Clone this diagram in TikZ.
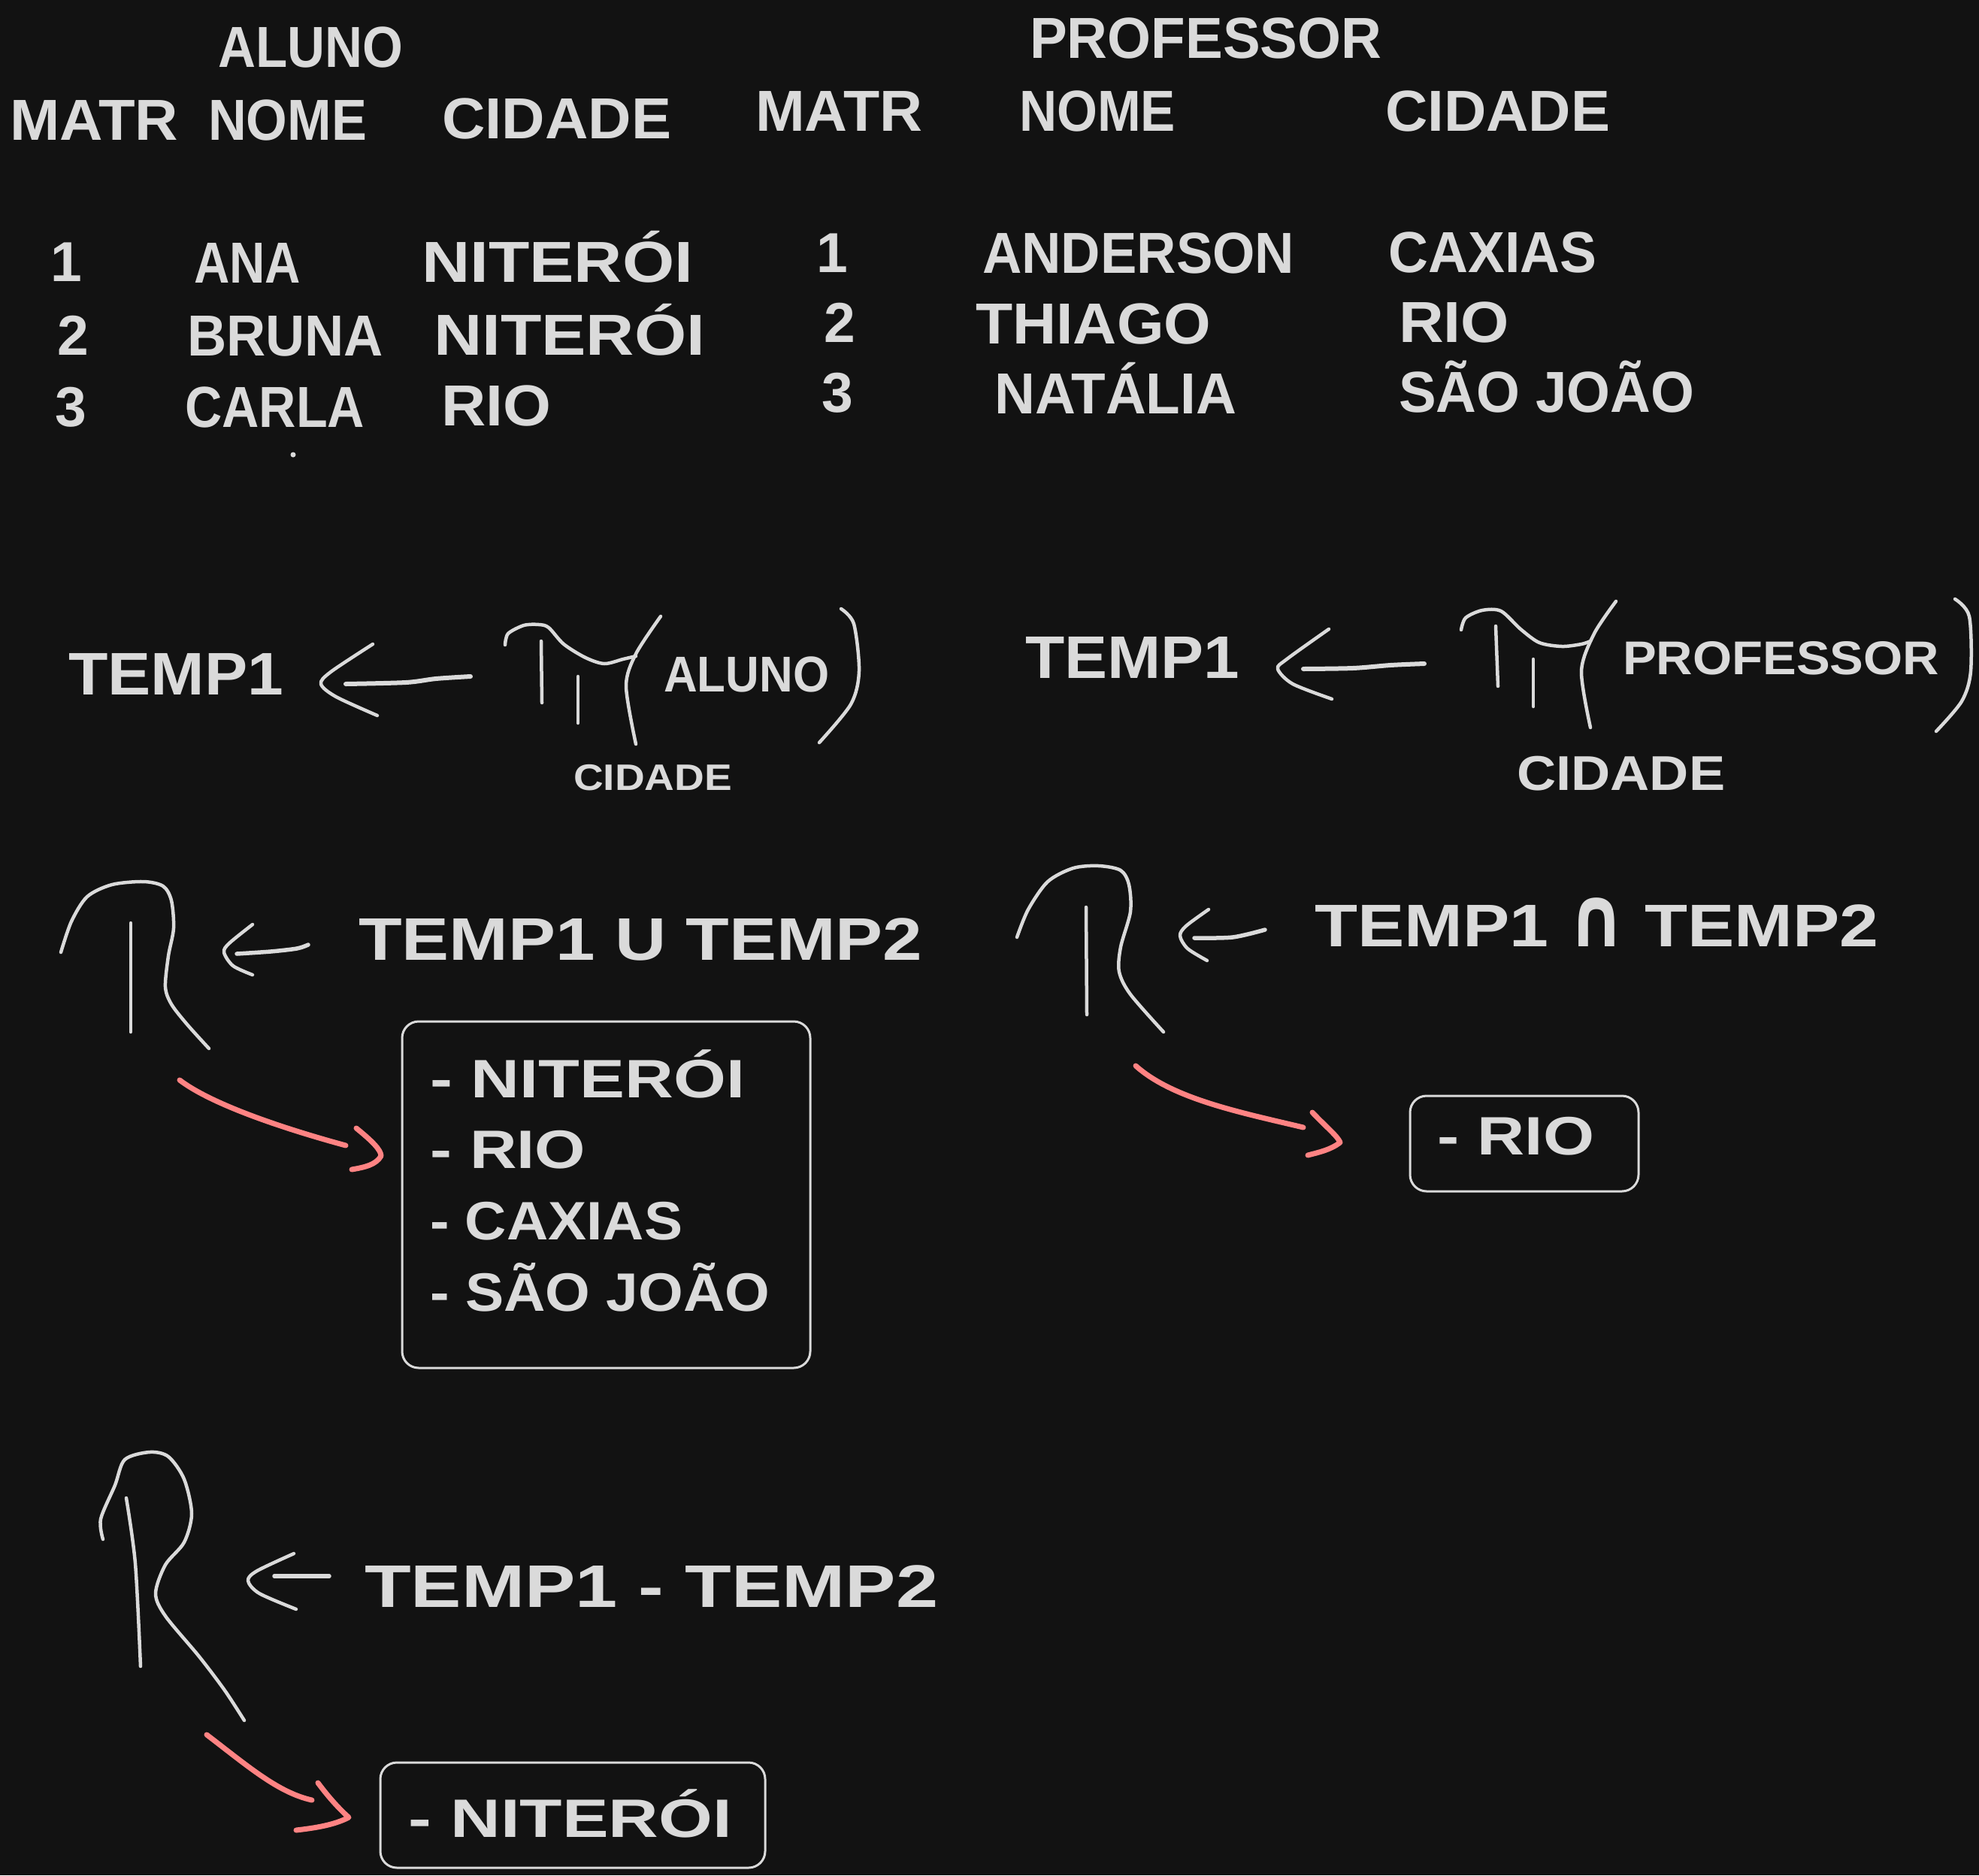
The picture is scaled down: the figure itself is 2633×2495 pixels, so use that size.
\documentclass[tikz,border=0pt]{standalone}
\usepackage{fontspec}
\setmainfont{Liberation Sans}
\newfontfamily\symfont{DejaVu Sans}
\usepackage{graphicx}
\definecolor{bg}{HTML}{121212}
\definecolor{fg}{HTML}{DADADA}
\definecolor{redpen}{HTML}{FF8383}
\newcommand\TW[2]{\resizebox{#1pt}{\height}{#2}}
\newcommand\fsTab{\fontsize{77}{80}\selectfont\bfseries}
\newcommand\fsTemp{\fontsize{80}{84}\selectfont\bfseries}
\newcommand\fsBox{\fontsize{72}{76}\selectfont\bfseries}
\newcommand\fsPiA{\fontsize{67}{70}\selectfont\bfseries}
\newcommand\fsPiP{\fontsize{63}{66}\selectfont\bfseries}
\newcommand\fsSubA{\fontsize{49}{52}\selectfont\bfseries}
\newcommand\fsSubP{\fontsize{65}{68}\selectfont\bfseries}
\newcommand\fsDig{\fontsize{75}{78}\selectfont\bfseries}
\begin{document}
\begin{tikzpicture}[x=1pt,y=-1pt,
  lbl/.style={anchor=base west, inner sep=0pt, text=fg},
  dig/.style={anchor=base, inner sep=0pt, text=fg, font=\fsDig},
  ink/.style={draw=fg, line width=4.5pt, line cap=round, line join=round},
  redink/.style={draw=redpen, line width=7pt, line cap=round, line join=round},
  box/.style={draw=fg, line width=3pt, rounded corners=22pt, inner sep=0pt, fill=bg},
]
\fill[bg] (0,0) rectangle (2633,2495);
\useasboundingbox (0,0) rectangle (2633,2495);

% ---------- ALUNO table ----------
\node[lbl,font=\fsTab] (tAluno) at (290,89) {\TW{246}{ALUNO}};
\node[lbl,font=\fsTab] (hMatrA) at (13,186) {\TW{224}{MATR}};
\node[lbl,font=\fsTab] (hNomeA) at (277,186) {\TW{211}{NOME}};
\node[lbl,font=\fsTab] (hCidA) at (588,184) {\TW{305}{CIDADE}};
\node[dig] (a1) at (88,374) {1};
\node[lbl,font=\fsTab] (aNome1) at (258,376) {\TW{142}{ANA}};
\node[lbl,font=\fsTab] (aCid1) at (561,375) {\TW{361}{NITERÓI}};
\node[dig] (a2) at (97,472) {2};
\node[lbl,font=\fsTab] (aNome2) at (249,473) {\TW{261}{BRUNA}};
\node[lbl,font=\fsTab] (aCid2) at (577,472) {\TW{361}{NITERÓI}};
\node[dig] (a3) at (94,567) {3};
\node[lbl,font=\fsTab] (aNome3) at (246,568) {\TW{239}{CARLA}};
\node[lbl,font=\fsTab] (aCid3) at (587,566) {\TW{146}{RIO}};
\fill[fg] (390,605) circle (3.5);

% ---------- PROFESSOR table ----------
\node[lbl,font=\fsTab] (tProf) at (1370,77) {\TW{468}{PROFESSOR}};
\node[lbl,font=\fsTab] (hMatrP) at (1005,174) {\TW{222}{MATR}};
\node[lbl,font=\fsTab] (hNomeP) at (1356,174) {\TW{208}{NOME}};
\node[lbl,font=\fsTab] (hCidP) at (1843,174) {\TW{299}{CIDADE}};
\node[dig] (p1) at (1107,362) {1};
\node[lbl,font=\fsTab] (pNome1) at (1307,363) {\TW{415}{ANDERSON}};
\node[lbl,font=\fsTab] (pCid1) at (1847,362) {\TW{277}{CAXIAS}};
\node[dig] (p2) at (1117,455) {2};
\node[lbl,font=\fsTab] (pNome2) at (1298,457) {\TW{313}{THIAGO}};
\node[lbl,font=\fsTab] (pCid2) at (1861,455) {\TW{147}{RIO}};
\node[dig] (p3) at (1114,548) {3};
\node[lbl,font=\fsTab] (pNome3) at (1323,550) {\TW{322}{NATÁLIA}};
\node[lbl,font=\fsTab] (pCid3) at (1861,548) {\TW{393}{SÃO JOÃO}};

% ---------- projection on ALUNO ----------
\node[lbl,font=\fsTemp] (temp1a) at (91,924) {\TW{286}{TEMP1}};
\draw[ink] plot[smooth] coordinates {(496,857) (440,894) (427,910) (447,927) (502,952)};
\draw[ink,line width=6pt] plot[smooth] coordinates {(460,910) (540,908) (580,903) (626,900)};
\draw[ink] plot[smooth] coordinates {(672,858) (676,843) (697,832) (717,831) (730,835) (750,857) (779,875) (804,883) (829,877) (846,873)};
\draw[ink] (720,853) -- (721,935);
\draw[ink] (769,900) -- (769,962);
\draw[ink] plot[smooth] coordinates {(879,820) (846,870) (833,913) (846,990)};
\node[lbl,font=\fsPiA] (argA) at (883,920) {\TW{220}{ALUNO}};
\draw[ink] plot[smooth] coordinates {(1119,810) (1136,830) (1143,893) (1132,937) (1090,988)};
\node[lbl,font=\fsSubA] (subA) at (763,1051) {\TW{211}{CIDADE}};

% ---------- projection on PROFESSOR ----------
\node[lbl,font=\fsTemp] (temp1p) at (1364,902) {\TW{285}{TEMP1}};
\draw[ink] plot[smooth] coordinates {(1768,837) (1712,877) (1700,890) (1720,910) (1772,930)};
\draw[ink,line width=6pt] plot[smooth] coordinates {(1734,890) (1800,889) (1850,885) (1895,883)};
\draw[ink] plot[smooth] coordinates {(1944,838) (1950,822) (1972,812) (1997,813) (2023,837) (2048,855) (2078,860) (2104,857) (2116,853)};
\draw[ink] (1990,833) -- (1993,913);
\draw[ink] (2040,877) -- (2040,940);
\draw[ink] plot[smooth] coordinates {(2150,800) (2121,843) (2104,893) (2116,968)};
\node[lbl,font=\fsPiP] (argP) at (2159,897) {\TW{421}{PROFESSOR}};
\draw[ink] plot[smooth] coordinates {(2601,797) (2620,820) (2622,893) (2610,933) (2576,973)};
\node[lbl,font=\fsSubP] (subP) at (2018,1051) {\TW{277}{CIDADE}};

% ---------- union ----------
\draw[ink] plot[smooth] coordinates {(81,1267) (95,1226) (116,1193) (149,1177) (191,1173) (217,1179) (228,1198) (231,1235) (224,1272) (220,1313) (228,1336) (249,1363) (278,1395)};
\draw[ink] (174,1228) -- (174,1373);
\draw[ink] plot[smooth] coordinates {(336,1230) (305,1255) (298,1267) (310,1285) (336,1297)};
\draw[ink,line width=5.5pt] plot[smooth] coordinates {(315,1269) (360,1266) (395,1262) (410,1257)};
\node[lbl,font=\fsTemp] (uniao) at (477,1277) {\TW{750}{TEMP1 U TEMP2}};
\node[box, minimum width=543pt, minimum height=461pt] (ubox) at (806.5,1589.5) {};
\node[lbl,font=\fsBox] (u1) at (572,1460) {\TW{419}{- NITERÓI}};
\node[lbl,font=\fsBox] (u2) at (572,1554) {\TW{207}{- RIO}};
\node[lbl,font=\fsBox] (u3) at (572,1649) {\TW{336}{- CAXIAS}};
\node[lbl,font=\fsBox] (u4) at (572,1744) {\TW{452}{- SÃO JOÃO}};
\coordinate (ustart) at (239,1437);
\coordinate (utip) at (507,1538);
\draw[redink] (ustart) .. controls (285,1472) and (390,1505) .. (460,1524);
\draw[redink] (474,1501) .. controls (495,1518) and (507,1530) .. (utip) .. controls (500,1550) and (485,1553) .. (468,1556);

% ---------- intersection ----------
\draw[ink] plot[smooth] coordinates {(1353,1247) (1368,1210) (1394,1173) (1428,1155) (1462,1152) (1491,1158) (1502,1177) (1504,1213) (1491,1260) (1489,1293) (1504,1323) (1548,1373)};
\draw[ink] (1445,1207) -- (1446,1350);
\draw[ink] plot[smooth] coordinates {(1608,1210) (1578,1232) (1570,1245) (1580,1262) (1606,1278)};
\draw[ink,line width=5.5pt] plot[smooth] coordinates {(1589,1248) (1640,1247) (1683,1237)};
\node[lbl,font=\fsTemp] (inter) at (1749,1259) {\TW{750}{TEMP1 {\symfont\bfseries\scalebox{1}[1.4]{∩}} TEMP2}};
\node[box, minimum width=304pt, minimum height=127pt] (ibox) at (2028,1521.5) {};
\node[lbl,font=\fsBox] (i1) at (1912,1536) {\TW{209}{- RIO}};
\coordinate (istart) at (1511,1418);
\coordinate (itip) at (1783,1520);
\draw[redink] (istart) .. controls (1560,1462) and (1650,1480) .. (1734,1500);
\draw[redink] (1746,1480) .. controls (1765,1500) and (1780,1512) .. (itip) .. controls (1770,1530) and (1755,1533) .. (1740,1537);

% ---------- difference ----------
\draw[ink] plot[smooth] coordinates {(137,2048) (134,2021) (153,1976) (166,1942) (199,1932) (224,1938) (245,1968) (255,2014) (245,2052) (220,2082) (207,2120) (220,2150) (265,2204) (299,2249) (325,2289)};
\draw[ink] plot[smooth] coordinates {(168,1993) (180,2080) (187,2217)};
\draw[ink] plot[smooth] coordinates {(391,2067) (342,2090) (330,2103) (345,2120) (394,2141)};
\draw[ink,line width=5.5pt] (365,2097) -- (438,2097);
\node[lbl,font=\fsTemp] (dif) at (485,2138) {\TW{763}{TEMP1 - TEMP2}};
\node[box, minimum width=512pt, minimum height=140pt] (dbox) at (762,2415) {};
\node[lbl,font=\fsBox] (d1) at (543,2444) {\TW{431}{- NITERÓI}};
\coordinate (dstart) at (275,2308);
\coordinate (dtip) at (464,2418);
\draw[redink] (dstart) .. controls (330,2350) and (370,2385) .. (415,2395);
\draw[redink] (423,2372) .. controls (440,2395) and (455,2410) .. (dtip) .. controls (445,2428) and (420,2432) .. (394,2435);
\end{tikzpicture}
\end{document}
